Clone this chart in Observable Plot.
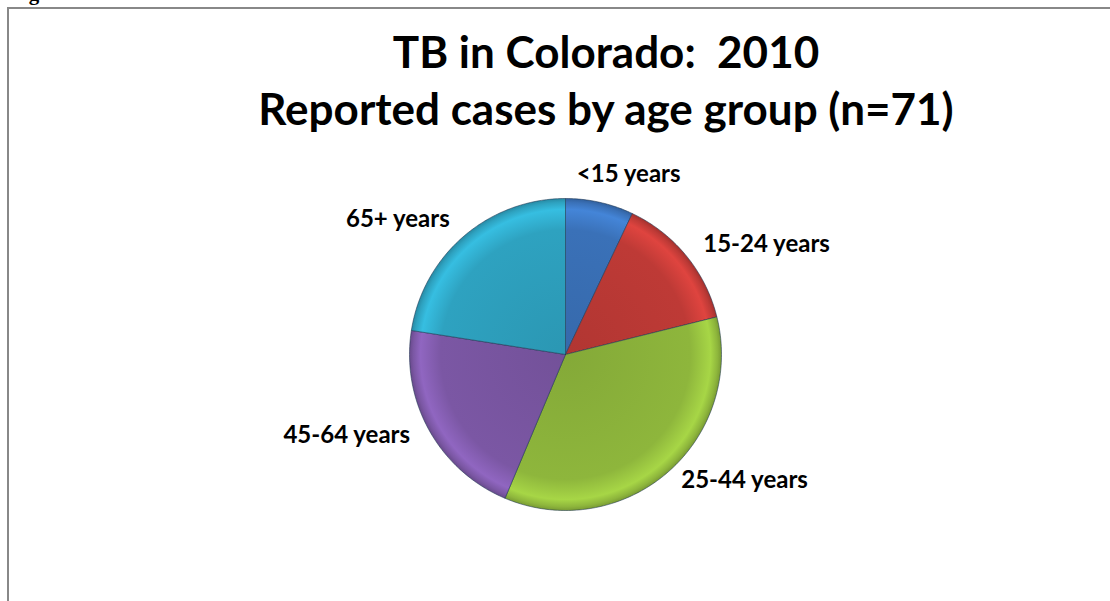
<!DOCTYPE html>
<html><head><meta charset="utf-8">
<script src="https://cdn.jsdelivr.net/npm/d3@7"></script>
<script src="https://cdn.jsdelivr.net/npm/@observablehq/plot@0.6"></script>
<style>
body{margin:0;background:#fff;}
#wrap{position:relative;width:1110px;height:601px;overflow:hidden;font-family:Lato, sans-serif;background:#fff;}
#chart{position:absolute;left:0;top:0;}
#frame{position:absolute;left:7px;top:7px;width:1200px;height:700px;border-left:2px solid #888;border-top:2px solid #888;}
#fig{position:absolute;left:10px;top:-17px;font:bold 21px "Liberation Serif", serif;line-height:1;color:#000;}
.title{position:absolute;left:0;width:1212px;text-align:center;font-weight:bold;font-size:44px;line-height:1;color:#000;font-family:Lato, sans-serif;}
#t1{top:29px;}
#t2{top:86px;}
</style></head><body>
<div id="wrap">
<div id="chart"></div>
<div id="frame"></div>
<div id="fig">Figure 3:</div>
<div class="title" id="t1">TB in Colorado:&nbsp; 2010</div>
<div class="title" id="t2">Reported cases by age group (n=71)</div>
</div>
<script>
const labels = ["<15 years", "15-24 years", "25-44 years", "45-64 years", "65+ years"];
const cases = [5, 10, 25, 15, 16];
const colors = ["#3a71b8", "#be3a36", "#8eb63c", "#7b57a4", "#2ea2c0"];

const W = 1110, H = 601, CX = 565, CY = 354, R = 156;

const arcs = d3.pie().sort(null).value(d => d)(cases);
const slices = arcs.map((p, i) => ({label: labels[i], i, start: p.startAngle, end: p.endAngle, mid: (p.startAngle + p.endAngle) / 2}));

const outline = [];
for (const s of slices) {
  outline.push({label: s.label, i: s.i, x: 0, y: 0});
  const n = Math.max(2, Math.ceil((s.end - s.start) / (Math.PI / 180)));
  for (let k = 0; k <= n; k++) {
    const a = s.start + (s.end - s.start) * k / n;
    outline.push({label: s.label, i: s.i, x: Math.sin(a), y: Math.cos(a)});
  }
  outline.push({label: s.label, i: s.i, x: 0, y: 0});
}

const lab = slices.map(s => {
  const sx = Math.sin(s.mid), cy = Math.cos(s.mid);
  const anchor = sx > 0.3 ? "start" : sx < -0.3 ? "end" : "middle";
  const lean = anchor === "middle" ? sx * 110 / R : 0;
  const ry = R + 10 + 20 * Math.max(0, cy) ** 2;
  return {label: s.label, x: sx * (R + 22) / R + lean, y: cy * ry / R, anchor};
});

const plot = Plot.plot({
  width: W, height: H, margin: 0,
  x: {domain: [-CX / R, (W - CX) / R], axis: null},
  y: {domain: [-(H - CY) / R, CY / R], axis: null},
  color: {type: "identity"},
  style: {background: "transparent", overflow: "visible"},
  marks: [
    Plot.line(outline, {x: "x", y: "y", z: "label", fill: d => `url(#grad${d.i})`,
      stroke: "#1e3550", strokeOpacity: 0.55, strokeWidth: 1, strokeLinejoin: "round", curve: "linear"}),
    ...["start", "middle", "end"].map(a => Plot.text(lab.filter(d => d.anchor === a), {
      x: "x", y: "y", text: "label", textAnchor: a, fontSize: 24, fontWeight: "bold",
      fontFamily: "Lato", fill: "#000"}))
  ]
});

const ns = "http://www.w3.org/2000/svg";
const sx = plot.scale("x"), sy = plot.scale("y");
const pcx = sx.apply(0), pcy = sy.apply(0), pr = sx.apply(1) - pcx;
const defs = document.createElementNS(ns, "defs");
colors.forEach((c, i) => {
  const g = document.createElementNS(ns, "radialGradient");
  g.setAttribute("id", "grad" + i);
  g.setAttribute("gradientUnits", "userSpaceOnUse");
  g.setAttribute("cx", pcx); g.setAttribute("cy", pcy); g.setAttribute("r", pr);
  const stops = [[0, d3.color(c).darker(0.2)], [0.8, d3.color(c)], [0.93, d3.color(c).brighter(0.45)],
                 [0.975, d3.color(c)], [1, d3.color(c).darker(0.45)]];
  for (const [o, col] of stops) {
    const st = document.createElementNS(ns, "stop");
    st.setAttribute("offset", o);
    st.setAttribute("stop-color", col.formatHex());
    g.appendChild(st);
  }
  defs.appendChild(g);
});
plot.insertBefore(defs, plot.firstChild);
document.getElementById("chart").appendChild(plot);
</script>
</body></html>
